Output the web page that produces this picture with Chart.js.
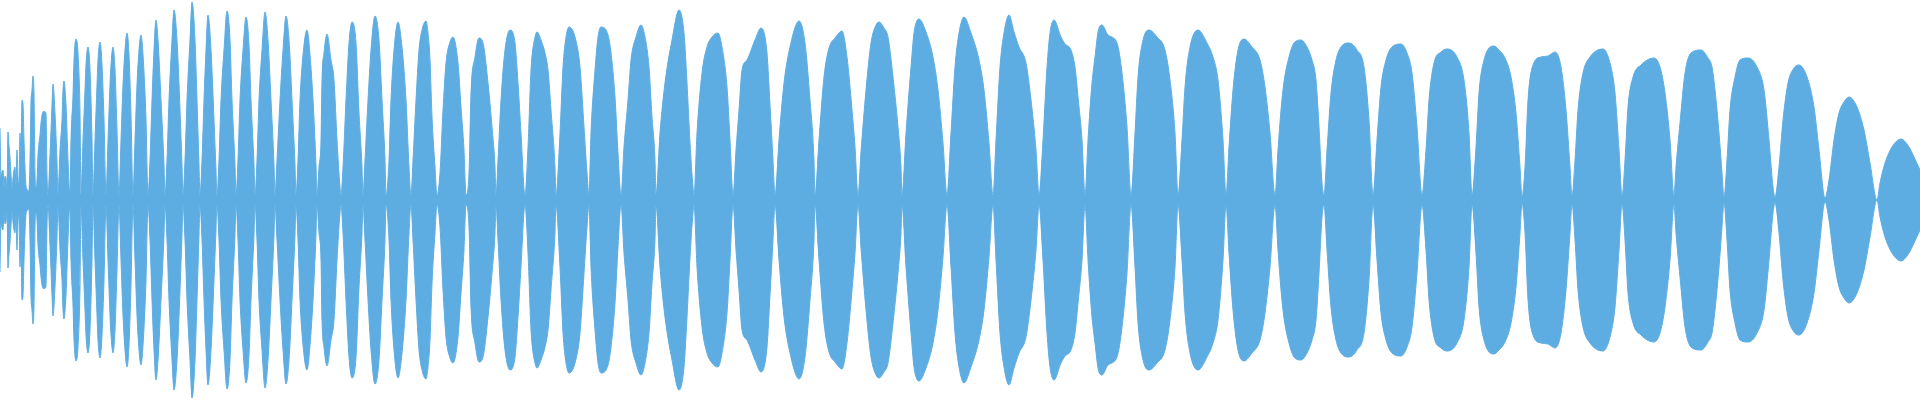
<!DOCTYPE html>
<html>
<head>
<meta charset="utf-8">
<title>Waveform</title>
<script src="https://cdn.jsdelivr.net/npm/chart.js@4/dist/chart.umd.min.js"></script>
<style>
  html, body { margin: 0; padding: 0; background: #ffffff; }
  #wrap { width: 1920px; height: 400px; }
</style>
</head>
<body>
<div id="wrap"><canvas id="wave" width="1920" height="400"></canvas></div>
<script>
// sample position along the clip (one line = one lobe of the envelope)
const envX = [
  0,1,2,3,4,5,6,7,8,9,10,11,12,13,14,15,16,17,18,19,20,21,22,23,24,25,26,27,28,29,
  30,31,32,33,34,35,36,37,38,39,40,41,42,43,44,45,46,47,
  48,50,51,52,53,55,57,
  58,60,62,63,64,66,68,
  70,71,73,74,76,78,80,
  81,83,85,86,88,90,92,
  93,95,97,98,100,102,104,
  106,108,110,111,113,115,117,
  119,121,123,125,127,129,131,
  133,135,137,139,141,143,146,
  148,150,152,154,156,158,161,164,
  165,167,169,172,174,177,180,182,
  183,185,187,190,192,195,197,199,
  200,202,204,206,208,211,214,216,
  217,219,221,224,227,230,232,235,
  236,238,240,243,246,249,251,254,
  255,257,259,262,265,268,271,274,
  275,277,280,283,286,289,292,295,
  296,298,300,303,307,310,313,316,
  317,319,321,322,324,327,331,334,337,340,
  341,343,346,349,352,356,359,362,
  363,365,368,371,375,379,382,385,
  386,389,391,394,398,402,406,409,
  411,413,416,419,422,426,428,430,432,435,
  437,440,443,446,450,453,458,461,464,
  466,469,471,475,479,483,488,492,495,
  496,498,501,505,510,515,518,521,
  525,528,531,535,537,541,545,548,551,555,
  556,560,563,566,569,575,580,584,587,
  589,591,595,598,601,608,611,615,618,
  621,624,628,631,636,641,645,649,652,655,
  656,660,665,672,679,684,687,690,693,
  694,697,702,707,712,718,722,727,730,
  733,736,739,742,747,755,761,767,770,773,
  775,779,784,790,799,805,810,814,
  815,819,824,829,835,842,847,852,855,
  858,861,866,871,876,879,884,888,893,898,901,
  902,906,911,914,919,926,933,938,943,
  947,951,955,959,964,971,979,984,989,
  993,996,1000,1004,1009,1014,1019,1026,1031,1036,
  1039,1043,1047,1050,1054,1061,1066,1070,1075,1078,1082,
  1085,1088,1092,1095,1098,1102,1108,1117,1122,1127,
  1131,1135,1138,1143,1149,1157,1165,1170,1175,
  1178,1182,1185,1190,1198,1207,1213,1218,1223,
  1226,1229,1233,1238,1244,1252,1260,1265,1270,
  1275,1278,1281,1284,1289,1294,1301,1307,1312,1316,1319,1322,
  1324,1327,1331,1336,1341,1349,1357,1364,1369,
  1373,1377,1381,1386,1392,1401,1407,1412,1417,
  1422,1426,1429,1434,1441,1447,1457,1464,1469,
  1472,1476,1479,1484,1494,1498,1505,1511,1516,1520,
  1522,1525,1528,1533,1541,1548,1555,1561,1566,1570,
  1572,1575,1578,1583,1590,1603,1610,1615,1619,
  1622,1625,1628,1633,1641,1654,1660,1665,1670,
  1674,1676,1680,1685,1691,1701,1708,1712,1715,1719,1722,
  1724,1727,1730,1735,1740,1748,1757,1764,1769,1773,
  1775,1779,1783,1788,1794,1799,1807,1814,1819,
  1825,1829,1834,1839,1844,1849,1857,1864,1870,
  1877,1880,1885,1892,1901,1909,1914,1920
];

// peak level at each position (mirrored for the lower half)
const envAmp = [
  72,23,28,30,14,24,22,12,68,54,42,25,12,22,30,33,15,50,22,14,67,45,100,96,60,32,14,11,9,10,
  40,97,110,124,107,27,13,20,45,57,65,77,85,88,89,88,86,25,
  5,45,70,95,116,87,38,
  6,50,80,110,119,95,40,
  5,60,105,140,161,147,87,
  6,60,110,135,153,130,60,
  5,60,115,140,158,135,80,
  5,60,115,135,153,130,70,
  5,60,115,150,167,145,85,
  5,60,115,150,165,145,80,
  5,40,100,150,180,160,100,35,
  5,40,100,160,190,160,90,35,
  5,40,100,160,198,160,100,35,
  5,40,100,150,185,150,80,30,
  5,40,100,150,189,160,100,35,
  5,40,100,150,183,155,100,35,
  5,40,100,150,188,160,100,35,
  5,40,100,150,184,160,100,35,
  5,40,100,145,170,145,100,35,
  5,33,60,120,147,166,140,120,60,13,
  5,33,100,157,178,157,87,33,
  5,40,100,150,184,160,100,40,
  5,40,100,150,178,153,100,33,
  5,40,100,150,170,179,167,140,83,33,
  5,27,90,137,158,163,137,93,50,
  5,27,107,143,162,157,117,73,33,
  5,40,100,150,170,157,117,67,
  5,53,130,163,168,160,147,130,90,33,
  5,67,133,163,173,163,133,73,27,
  5,67,130,163,173,165,147,103,47,
  5,53,100,140,163,175,163,133,83,40,
  5,67,117,160,190,167,117,57,13,
  5,67,127,153,163,167,153,113,60,
  5,50,90,130,140,160,172,147,95,40,
  5,60,117,153,179,157,100,40,
  5,60,123,152,162,169,143,90,53,
  5,48,110,157,175,178,172,163,123,73,33,
  5,67,133,167,181,168,143,110,57,
  5,67,133,167,183,167,140,110,57,
  5,60,133,167,185,168,153,137,100,50,
  5,60,133,167,180,163,155,152,133,103,60,
  5,60,117,143,168,175,165,157,127,73,
  5,67,123,160,170,163,150,120,67,
  5,60,113,153,170,157,143,120,60,
  5,53,110,150,161,153,140,113,67,
  5,50,90,118,143,157,160,153,140,120,73,17,
  5,50,107,140,153,157,150,133,80,
  5,60,113,140,153,156,147,127,73,
  5,50,100,137,148,151,143,120,67,
  5,53,107,140,154,151,142,123,87,33,
  4,33,100,135,143,144,148,133,90,33,
  4,40,90,127,143,151,137,107,50,
  4,40,93,123,135,142,133,107,60,
  4,33,77,127,147,150,142,133,110,67,27,
  3,40,90,123,140,142,133,110,60,13,
  3,33,80,117,132,135,123,93,50,
  2,20,60,87,98,103,93,70,37,
  0,17,37,53,61,53,43,30
];

const waveColor = '#5DADE2';

const upperData = envX.map((x, i) => ({ x: x, y: envAmp[i] }));
const lowerData = envX.map((x, i) => ({ x: x, y: -envAmp[i] }));

const ctx = document.getElementById('wave').getContext('2d');

const waveChart = new Chart(ctx, {
    type: 'line',
    data: {
        datasets: [
            {
                label: 'upper',
                data: upperData,
                borderColor: waveColor,
                backgroundColor: waveColor,
                borderWidth: 1,
                pointRadius: 0,
                cubicInterpolationMode: 'monotone',
                fill: '+1'
            },
            {
                label: 'lower',
                data: lowerData,
                borderColor: waveColor,
                backgroundColor: waveColor,
                borderWidth: 1,
                pointRadius: 0,
                cubicInterpolationMode: 'monotone',
                fill: false
            }
        ]
    },
    options: {
        responsive: false,
        animation: false,
        layout: { padding: 0 },
        scales: {
            x: { type: 'linear', min: 0, max: 1920, display: false },
            y: { min: -200, max: 200, display: false }
        },
        plugins: {
            legend: { display: false },
            tooltip: { enabled: false }
        }
    }
});
</script>
</body>
</html>
